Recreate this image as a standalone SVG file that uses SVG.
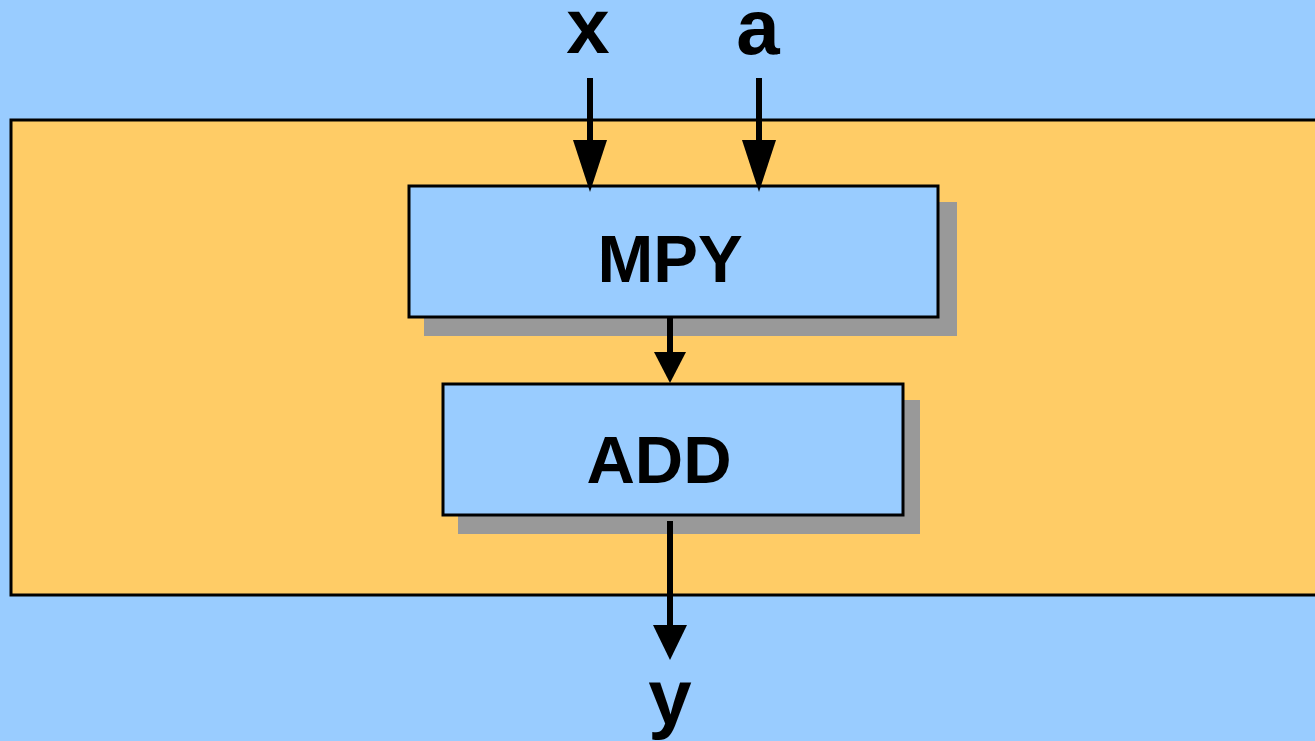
<svg xmlns="http://www.w3.org/2000/svg" width="1315" height="741" viewBox="0 0 1315 741">
<defs>
<style>
.box{fill:#99CCFF;stroke:#000;stroke-width:3}
.shadow{fill:#999999}
.lbl{font-family:"Liberation Sans",Arial,sans-serif;font-weight:bold;fill:#000;text-anchor:middle}
.wire{stroke:#000;stroke-width:6;fill:none}
</style>
<marker id="ah" markerUnits="userSpaceOnUse" markerWidth="36" markerHeight="52" refX="18" refY="50" orient="auto-start-reverse" viewBox="0 0 36 52">
<path d="M0,0 L36,0 L18,52 Z" fill="#000"/>
</marker>
</defs>
<rect x="0" y="0" width="1315" height="741" fill="#99CCFF"/>
<g id="container">
<rect x="11" y="120" width="1310" height="475" fill="#FFCC66" stroke="#000" stroke-width="3"/>
</g>
<g id="mpy">
<rect class="shadow" x="424" y="202" width="533" height="134"/>
<rect class="box" x="409" y="186" width="529" height="131"/>
<text class="lbl" x="670" y="282" font-size="67">MPY</text>
</g>
<g id="add">
<rect class="shadow" x="458" y="400" width="462" height="134"/>
<rect class="box" x="443" y="384" width="460" height="131"/>
<text class="lbl" x="659" y="483" font-size="67">ADD</text>
</g>
<g id="in-x"><text class="lbl" x="588" y="53" font-size="78">x</text></g>
<g id="in-a"><text class="lbl" x="758" y="54" font-size="78">a</text></g>
<g id="out-y"><text class="lbl" x="670" y="724" font-size="78">y</text></g>
<g id="connectors">
<line class="wire" x1="590" y1="78" x2="590" y2="150"/>
<path d="M573,140 L607,140 L590,192 Z" fill="#000"/>
<line class="wire" x1="759" y1="78" x2="759" y2="150"/>
<path d="M742,140 L776,140 L759,192 Z" fill="#000"/>
<line class="wire" x1="670" y1="318" x2="670" y2="360"/>
<path d="M654,352 L686,352 L670,383 Z" fill="#000"/>
<line class="wire" x1="670" y1="521" x2="670" y2="630"/>
<path d="M653,625 L687,625 L670,660 Z" fill="#000"/>
</g>
</svg>
